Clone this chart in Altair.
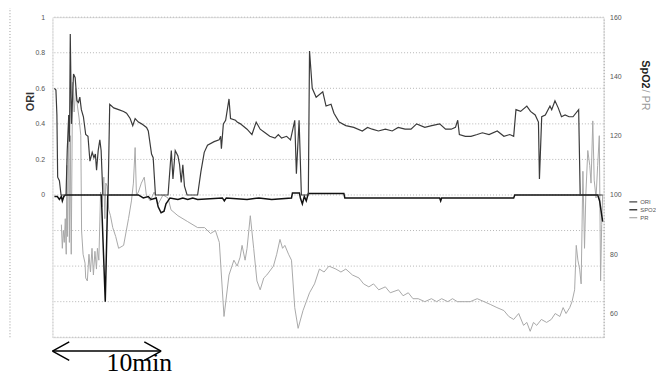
import altair as alt
import pandas as pd

# ---------------- data (time in minutes) ----------------
ori_t = [0.18, 0.32, 0.41, 0.48, 0.64, 0.79, 1.25, 1.36, 1.50, 1.57, 1.64, 1.75, 1.94, 2.09, 2.25,
         2.39, 2.52, 2.66, 2.85, 3.06, 3.27, 3.45, 3.66, 3.82, 3.95, 4.06, 4.21, 4.36, 4.48, 4.64,
         5.12, 5.27, 5.64, 6.09, 6.55, 6.82, 7.15, 7.39, 7.61, 7.91, 8.21, 8.66, 8.82, 9.12, 9.27,
         9.48, 10.64, 10.94, 11.09, 11.30, 11.55, 11.70, 11.85, 12.00, 12.15, 12.39, 13.36, 13.66,
         13.97, 14.27, 14.88, 15.34, 15.48, 15.55, 15.73, 15.94, 16.25, 16.39, 16.85, 17.00, 17.30,
         17.91, 18.36, 18.75, 19.12, 19.57, 20.00, 20.48, 20.79, 21.09, 21.55, 21.91, 22.30, 22.45,
         22.70, 22.91, 23.55, 23.66, 23.91, 24.27, 24.88, 25.18, 25.64, 25.91, 26.39, 27.00, 27.73,
         28.52, 29.00, 29.43, 30.00, 30.64, 31.27, 31.82, 32.45, 33.00, 33.52, 34.27, 34.91, 35.64,
         36.18, 36.70, 37.09, 37.30, 37.45, 38.00, 38.52, 39.09, 39.57, 40.18, 40.94, 41.55, 42.09,
         42.45, 42.66, 43.09, 43.66, 44.00, 44.43, 44.73, 44.82, 45.03, 45.36, 45.79, 45.95, 46.25,
         46.55, 46.85, 47.18, 47.55, 47.91, 48.43, 48.57, 50.64]
ori_v = [0.60, 0.59, 0.45, 0.10, 0.08, 0.0, 0.0, 0.25, 0.45, 0.30, 0.905, 0.40, 0.68, 0.66, 0.53,
         0.52, 0.55, 0.48, 0.44, 0.34, 0.33, 0.19, 0.24, 0.21, 0.23, 0.14, 0.25, 0.31, 0.25, 0.0,
         0.0, 0.51, 0.49, 0.48, 0.47, 0.46, 0.43, 0.39, 0.43, 0.41, 0.40, 0.38, 0.36, 0.23, 0.21,
         0.0, 0.0, 0.25, 0.09, 0.25, 0.22, 0.17, 0.07, 0.17, 0.05, 0.0, 0.0, 0.13,
         0.24, 0.28, 0.30, 0.31, 0.33, 0.26, 0.40, 0.42, 0.54, 0.43, 0.42, 0.41, 0.40,
         0.37, 0.34, 0.41, 0.37, 0.35, 0.33, 0.32, 0.34, 0.32, 0.33, 0.31, 0.42, 0.12,
         0.42, 0.0, 0.0, 0.81, 0.60, 0.55, 0.58, 0.50, 0.51, 0.46, 0.41, 0.39, 0.38,
         0.36, 0.38, 0.37, 0.36, 0.37, 0.36, 0.38, 0.37, 0.37, 0.40, 0.38, 0.39, 0.40,
         0.37, 0.37, 0.38, 0.42, 0.34, 0.33, 0.33, 0.34, 0.35, 0.34, 0.36, 0.33, 0.34,
         0.33, 0.48, 0.47, 0.50, 0.47, 0.45, 0.41, 0.09, 0.44, 0.45, 0.50, 0.48, 0.53,
         0.49, 0.44, 0.45, 0.44, 0.44, 0.48, 0.0, 0.0]

spo2_t = [0.18, 0.45, 0.64, 0.82, 0.91, 1.05, 1.18, 4.50, 4.86, 5.09, 7.91, 8.36, 8.82, 9.09, 9.55,
          9.73, 10.00, 10.27, 10.45, 10.82, 11.55, 12.00, 12.45, 12.91, 13.36, 15.64, 15.82, 16.00,
          17.91, 19.00, 20.18, 22.00, 22.09, 22.73, 22.82, 23.00, 23.18, 23.36, 23.55, 26.82, 26.91,
          33.36, 35.64, 35.73, 35.82, 42.45, 42.55, 50.18, 50.36, 50.64]
spo2_v = [99.5, 99.5, 98.5, 99.5, 98, 99.5, 100, 100, 64, 100, 100, 99, 99.5, 98.5, 99,
          96, 94, 94.5, 97, 99, 98.5, 99, 98.5, 99, 98.5, 99, 98, 99,
          98.5, 99, 98.5, 99, 100.7, 100.7, 99, 97, 99.5, 98, 100.5, 100.5, 99,
          99, 99, 98, 99, 99, 100, 100, 98, 91]

pr_t = [0.82, 0.91, 1.00, 1.09, 1.18, 1.27, 1.32, 1.39, 1.48, 1.56, 1.64, 1.73, 1.85, 2.00, 2.14,
        2.30, 2.45, 2.61, 2.68, 2.82, 3.00, 3.06, 3.21, 3.36, 3.50, 3.64, 3.77, 3.91, 4.05, 4.14,
        4.27, 4.43, 4.55, 4.73, 4.82, 4.91, 5.03, 5.18, 5.34, 5.55, 5.82, 6.09, 6.55, 7.00, 7.27,
        7.45, 7.61, 7.73, 7.91, 8.18, 8.45, 8.64, 9.00, 9.36, 9.73, 10.18, 10.64, 10.91, 11.55,
        12.45, 13.36, 14.00, 14.55, 15.00, 15.36, 15.79, 16.25, 16.70, 17.00, 17.27, 17.45, 17.73,
        17.91, 18.21, 18.52, 18.82, 19.12, 19.45, 19.73, 20.34, 20.64, 20.94, 21.18, 21.39, 21.73,
        22.00, 22.30, 22.61, 23.06, 23.36, 23.66, 24.12, 24.57, 25.00, 25.45, 26.09, 26.55, 27.00,
        27.61, 28.21, 28.64, 29.12, 29.55, 30.03, 30.64, 31.09, 31.85, 32.27, 32.75, 33.18, 33.66,
        34.27, 34.88, 35.36, 35.82, 36.39, 36.82, 37.27, 37.91, 38.45, 39.09, 39.73, 40.34, 40.91,
        41.55, 42.00, 42.45, 42.91, 43.36, 43.66, 43.97, 44.27, 44.57, 45.00, 45.48, 45.91, 46.27,
        46.70, 47.00, 47.27, 47.61, 47.82, 48.06, 48.21, 48.36, 48.52, 48.66, 48.82, 48.97, 49.09,
        49.27, 49.45, 49.57, 49.73, 49.86, 50.03, 50.18, 50.33, 50.45, 50.55, 50.64]
pr_v = [90, 82, 88, 84, 92, 80, 110, 86, 127, 84, 120, 80, 138, 128, 136,
        130, 126, 120, 88, 80, 77, 72, 71, 80, 74, 82, 73, 81, 75, 82,
        78, 101, 96, 106, 92, 104, 103, 95, 93, 89, 86, 82, 83, 92, 98,
        104, 116, 100, 101, 104, 106, 100, 98, 101, 97, 100, 99, 95, 93,
        91, 89, 89, 87, 88, 84, 59, 73, 78, 76, 79, 83, 78,
        82, 93, 82, 71, 68, 72, 73, 76, 80, 85, 82, 83, 80,
        78, 62, 55, 61, 64, 67, 70, 75, 74, 76, 75, 74, 75,
        73, 72, 70, 69, 70, 68, 69, 67, 68, 66, 67, 65, 65,
        64, 65, 64, 65, 64, 65, 64, 64, 64, 65, 64, 63, 62,
        61, 59, 58, 60, 56, 57, 54, 57, 56, 58, 57, 58, 60,
        59, 62, 60, 62, 64, 68, 83, 78, 75, 70, 108, 82, 100,
        115, 110, 104, 125, 105, 99, 110, 120, 71, 90, 100]

ori_ticks = [0, 0.2, 0.4, 0.6, 0.8, 1]
grid_vals = [-0.8, -0.6, -0.4, -0.2, 0, 0.2, 0.4, 0.6, 0.8, 1.0]
right_ticks = [60, 80, 100, 120, 140, 160]
series_names = ["ORI", "SPO2", "PR"]
series_colors = ["#3a3a3a", "#111111", "#a8a8a8"]
arrow_span = [0, 10]
arrow_label = "10min"

# ---------------- chart ----------------
FONT = "Liberation Sans"
x_scale = alt.Scale(domain=[0, 50.73], nice=False, zero=False)
left_scale = alt.Scale(domain=[-0.8, 1], nice=False, zero=False)
right_scale = alt.Scale(domain=[52, 160], nice=False, zero=False)

color_enc = alt.Color(
    "s:N",
    scale=alt.Scale(domain=series_names, range=series_colors),
    legend=alt.Legend(orient="none", legendX=583, legendY=182, title=None,
                      symbolType="stroke", symbolSize=64, symbolStrokeWidth=1.2,
                      labelFontSize=6, labelColor="#555", labelFont=FONT,
                      rowPadding=0, padding=0, labelOffset=2),
)

ori_df = pd.DataFrame({"t": ori_t, "v": ori_v, "s": "ORI"})
spo2_df = pd.DataFrame({"t": spo2_t, "v": spo2_v, "s": "SPO2"})
pr_df = pd.DataFrame({"t": pr_t, "v": pr_v, "s": "PR"})
grid_df = pd.DataFrame({"v": grid_vals})
dummy = pd.DataFrame({"a": [0]})

grid = alt.Chart(grid_df).mark_rule(color="#b5b5b5", strokeDash=[1, 2], strokeWidth=1).encode(
    y=alt.Y("v:Q", scale=left_scale, axis=None)
)

border = alt.Chart(dummy).mark_rule(color="#999", strokeDash=[1, 2]).encode(
    x=alt.value(-43), y=alt.value(-10), y2=alt.value(325)
)

shaft = alt.Chart(pd.DataFrame({"a": [arrow_span[0]], "b": [arrow_span[1]]})).mark_rule(
    color="black", strokeWidth=1.5
).encode(x=alt.X("a:Q", scale=x_scale, axis=None), x2="b:Q", y=alt.value(338))

head_l = alt.Chart(pd.DataFrame({"a": [arrow_span[0]]})).mark_point(
    shape="M 0 0 L 2 -1.1 M 0 0 L 2 1.1", size=289, filled=False, color="black",
    strokeWidth=1.5, opacity=1
).encode(x=alt.X("a:Q", scale=x_scale, axis=None), y=alt.value(338))

head_r = alt.Chart(pd.DataFrame({"a": [arrow_span[1]]})).mark_point(
    shape="M 0 0 L -2 -1.1 M 0 0 L -2 1.1", size=289, filled=False, color="black",
    strokeWidth=1.5, opacity=1
).encode(x=alt.X("a:Q", scale=x_scale, axis=None), y=alt.value(338))

label10 = alt.Chart(dummy).mark_text(
    font="Liberation Serif", fontSize=26, color="black", align="center", baseline="alphabetic"
).encode(x=alt.value(88), y=alt.value(358), text=alt.value(arrow_label))

spo2_title = alt.Chart(dummy).mark_text(
    angle=90, fontSize=11, fontWeight="bold", color="#222", font=FONT,
    align="center", baseline="middle"
).encode(x=alt.value(600), y=alt.value(58), text=alt.value("SpO2"))

pr_title = alt.Chart(dummy).mark_text(
    angle=90, fontSize=11, color="#999", font=FONT, align="center", baseline="middle"
).encode(x=alt.value(600), y=alt.value(84), text=alt.value("/ PR"))

right_axis = alt.Axis(orient="right", values=right_ticks, title=None, grid=False, ticks=False,
                      domain=True, domainColor="#999", domainDash=[1, 2],
                      labelFontSize=7, labelColor="#555", labelPadding=6, labelFont=FONT)

pr_line = alt.Chart(pr_df).mark_line(strokeWidth=1).encode(
    x=alt.X("t:Q", scale=x_scale, axis=None),
    y=alt.Y("v:Q", scale=right_scale, axis=right_axis),
    color=color_enc,
)
spo2_line = alt.Chart(spo2_df).mark_line(strokeWidth=1.5).encode(
    x=alt.X("t:Q", scale=x_scale, axis=None),
    y=alt.Y("v:Q", scale=right_scale, axis=right_axis),
    color=color_enc,
)
right_group = alt.layer(pr_line, spo2_line)

left_axis = alt.Axis(orient="left", values=ori_ticks, format="~g", title="ORI", grid=False,
                     ticks=False, domain=True, domainColor="#c8c8c8", domainDash=[1, 2],
                     labelFontSize=7, labelColor="#555", labelPadding=8, labelFont=FONT,
                     titleFontSize=11, titleFontWeight="bold", titleColor="#333", titleFont=FONT,
                     titleX=-17, titleY=85, titleAngle=270, titleAlign="center",
                     titleBaseline="bottom")

ori_line = alt.Chart(ori_df).mark_line(strokeWidth=1.2).encode(
    x=alt.X("t:Q", scale=x_scale, axis=None),
    y=alt.Y("v:Q", scale=left_scale, axis=left_axis),
    color=color_enc,
)

chart = alt.layer(
    grid, border, shaft, head_l, head_r, label10, spo2_title, pr_title, right_group, ori_line
).resolve_scale(y="independent").properties(
    width=558, height=324,
    padding={"left": 45, "top": 7, "right": 53, "bottom": 40},
    autosize=alt.AutoSizeParams(type="none"),
).configure_view(stroke=None).configure(font=FONT, background="white")

chart.save("out.html", embed_options={"renderer": "svg", "actions": False})
